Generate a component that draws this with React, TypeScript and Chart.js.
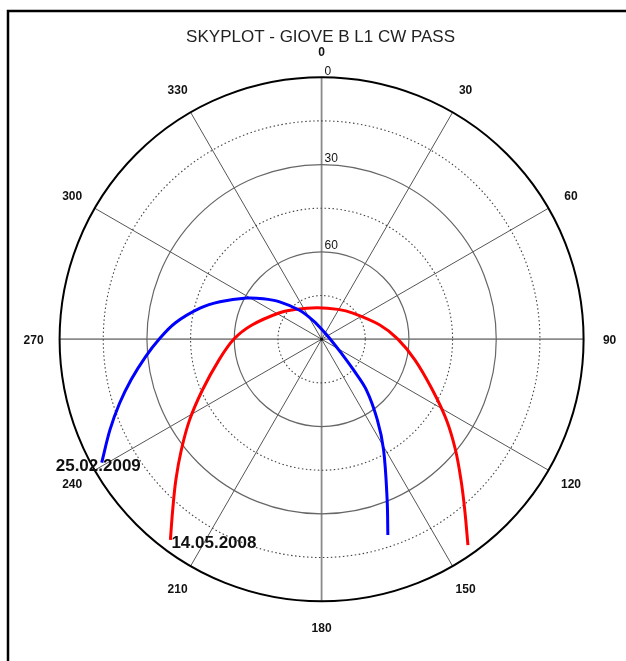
import { useEffect, useRef } from "react";
import { Chart, registerables } from "chart.js";

Chart.register(...registerables);

const TITLE = "SKYPLOT - GIOVE B L1 CW PASS";
const AZIMUTH_TICKS = [0, 30, 60, 90, 120, 150, 180, 210, 240, 270, 300, 330];
const ELEVATION_RINGS = [0, 15, 30, 45, 60, 75];
const ELEVATION_LABELS = [0, 30, 60];

const PASS_2009_LABEL = "25.02.2009";
const PASS_2009_AZ = [240.7, 246.8, 252.4, 258.0, 264.3, 269.9, 276.4, 284.3, 290.2, 298.7, 304.7, 311.7, 322.7, 336.5, 20.6, 95.9, 125.3, 133.8, 138.5, 145.3, 150.7, 157.8, 161.3];
const PASS_2009_EL = [3.4, 10.9, 17.2, 23.1, 29.2, 34.1, 39.5, 46.9, 52.8, 60.6, 65.6, 70.7, 77.5, 83.2, 87.4, 86.7, 81.7, 74.9, 66.8, 56.4, 46.5, 30.4, 19.0];

const PASS_2008_LABEL = "14.05.2008";
const PASS_2008_AZ = [217.0, 221.1, 226.0, 231.7, 238.5, 246.9, 258.5, 270.1, 281.5, 301.6, 318.2, 351.7, 28.9, 50.2, 76.3, 89.9, 102.6, 114.6, 122.9, 129.6, 135.3, 140.0, 144.6];
const PASS_2008_EL = [3.7, 12.2, 20.4, 28.6, 36.8, 45.5, 54.0, 59.9, 65.6, 72.8, 76.3, 79.1, 78.3, 76.0, 69.4, 63.8, 57.1, 48.1, 38.9, 30.3, 21.9, 13.5, 3.2];

function toXY(az: number, el: number) {
  const r = 90 - el;
  const a = (az * Math.PI) / 180;
  return { x: r * Math.sin(a), y: r * Math.cos(a) };
}

function track(az: number[], el: number[]) {
  return az.map((a, i) => toXY(a, el[i]));
}

const FONT = "'Liberation Sans', Arial, sans-serif";

const skyplotPlugin = {
  id: "skyplot",
  beforeDatasetsDraw(chart: any) {
    const { ctx } = chart;
    const xs = chart.scales.x;
    const ys = chart.scales.y;
    const cx = xs.getPixelForValue(0);
    const cy = ys.getPixelForValue(0);
    const k = xs.getPixelForValue(1) - cx;
    ctx.save();
    // frame (left & top)
    ctx.strokeStyle = "#000";
    ctx.lineWidth = 2.5;
    ctx.beginPath();
    ctx.moveTo(8, 661);
    ctx.lineTo(8, 11);
    ctx.lineTo(626, 11);
    ctx.stroke();

    // spokes
    AZIMUTH_TICKS.forEach((az) => {
      const p = toXY(az, 0);
      const major = az % 90 === 0;
      ctx.beginPath();
      ctx.setLineDash([]);
      ctx.strokeStyle = major ? "#8a8a8a" : "#555";
      ctx.lineWidth = major ? 1.8 : 1;
      ctx.moveTo(cx, cy);
      ctx.lineTo(xs.getPixelForValue(p.x), ys.getPixelForValue(p.y));
      ctx.stroke();
    });

    // rings
    ELEVATION_RINGS.forEach((el) => {
      const r = (90 - el) * k;
      ctx.beginPath();
      ctx.arc(cx, cy, r, 0, Math.PI * 2);
      if (el === 0) {
        ctx.setLineDash([]);
        ctx.strokeStyle = "#000";
        ctx.lineWidth = 2;
      } else if (el % 30 === 0) {
        ctx.setLineDash([]);
        ctx.strokeStyle = "#666";
        ctx.lineWidth = 1.2;
      } else {
        ctx.setLineDash([1.5, 2.5]);
        ctx.strokeStyle = "#444";
        ctx.lineWidth = 1.1;
      }
      ctx.stroke();
    });
    ctx.setLineDash([]);
    ctx.fillStyle = "#000";
    ctx.beginPath();
    ctx.arc(cx, cy, 1.5, 0, Math.PI * 2);
    ctx.fill();
    ctx.restore();
  },
  afterDatasetsDraw(chart: any) {
    const { ctx } = chart;
    const xs = chart.scales.x;
    const ys = chart.scales.y;
    const cx = xs.getPixelForValue(0);
    const cy = ys.getPixelForValue(0);
    const k = xs.getPixelForValue(1) - cx;
    ctx.save();
    // title
    ctx.fillStyle = "#222";
    ctx.font = `17px ${FONT}`;
    ctx.textAlign = "center";
    ctx.textBaseline = "middle";
    ctx.fillText(TITLE, cx - 1, 37);

    // azimuth labels
    ctx.fillStyle = "#111";
    ctx.font = `bold 12px ${FONT}`;
    const labelR = 288;
    AZIMUTH_TICKS.forEach((az) => {
      const a = (az * Math.PI) / 180;
      ctx.fillText(String(az), cx + labelR * Math.sin(a), cy - labelR * Math.cos(a) + 1);
    });

    // elevation labels
    ctx.textAlign = "left";
    ctx.textBaseline = "bottom";
    ctx.font = `12px ${FONT}`;
    ELEVATION_LABELS.forEach((el) => {
      const r = (90 - el) * k;
      ctx.fillText(String(el), cx + 3, cy - r);
    });

    // pass date labels
    ctx.fillStyle = "#111";
    ctx.font = `bold 17px ${FONT}`;
    ctx.textBaseline = "middle";
    const s9 = toXY(PASS_2009_AZ[0], PASS_2009_EL[0]);
    ctx.fillText(PASS_2009_LABEL, xs.getPixelForValue(s9.x) - 46, ys.getPixelForValue(s9.y) + 4);
    const s8 = toXY(PASS_2008_AZ[0], PASS_2008_EL[0]);
    ctx.fillText(PASS_2008_LABEL, xs.getPixelForValue(s8.x) + 1, ys.getPixelForValue(s8.y) + 3);
    ctx.restore();
  },
};

export default function App() {
  const ref = useRef<HTMLCanvasElement | null>(null);
  useEffect(() => {
    if (!ref.current) return;
    const chart = new Chart(ref.current, {
      type: "scatter",
      data: {
        datasets: [
          {
            label: PASS_2009_LABEL,
            data: track(PASS_2009_AZ, PASS_2009_EL),
            showLine: true,
            borderColor: "#0000ff",
            backgroundColor: "#0000ff",
            borderWidth: 3,
            pointRadius: 0,
            tension: 0.35,
            fill: false,
          },
          {
            label: PASS_2008_LABEL,
            data: track(PASS_2008_AZ, PASS_2008_EL),
            showLine: true,
            borderColor: "#ff0000",
            backgroundColor: "#ff0000",
            borderWidth: 3,
            pointRadius: 0,
            tension: 0.35,
            fill: false,
          },
        ],
      },
      options: {
        animation: false,
        responsive: false,
        maintainAspectRatio: false,
        devicePixelRatio: 1,
        layout: { padding: 0 },
        plugins: { legend: { display: false }, tooltip: { enabled: false }, title: { display: false } },
        scales: {
          x: { type: "linear", display: false, min: -110.47, max: 104.57 },
          y: { type: "linear", display: false, min: -110.54, max: 116.52 },
        },
      },
      plugins: [skyplotPlugin],
    });
    return () => chart.destroy();
  }, []);
  return (
    <div style={{ position: "fixed", left: 0, top: 0, width: 626, height: 661, background: "#fff" }}>
      <canvas ref={ref} width={626} height={661} style={{ display: "block", width: 626, height: 661 }} />
    </div>
  );
}
